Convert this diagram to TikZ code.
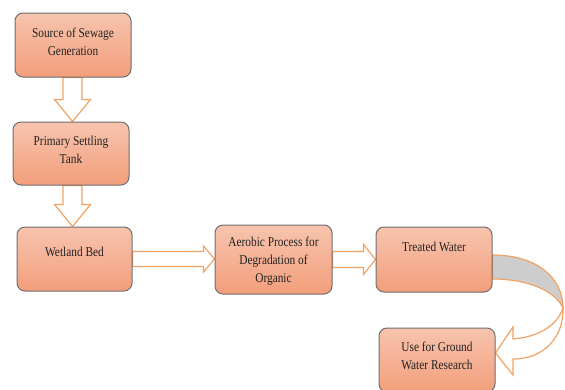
\documentclass[tikz,border=0pt]{standalone}
\usepackage{fontspec}
\setmainfont{Liberation Serif}[FakeStretch=0.84]
\usetikzlibrary{calc}
\pgfdeclarelayer{background}
\pgfsetlayers{background,main}
\definecolor{boxtop}{HTML}{F7C4AE}
\definecolor{boxbot}{HTML}{F39E7B}
\definecolor{boxline}{HTML}{6E6E6E}
\definecolor{arrline}{HTML}{F2A262}
\definecolor{bandgray}{HTML}{CDCDCD}
\definecolor{txtcol}{HTML}{222222}
\begin{document}
\begin{tikzpicture}[x=1pt,y=-1pt,
  procbox/.style={draw=boxline, line width=1pt, rounded corners=8pt,
    top color=boxtop, bottom color=boxbot, inner sep=0pt},
  txt/.style={align=center, font=\fontsize{13.5}{18}\selectfont, text=txtcol, inner sep=0pt},
  blockarr/.style={draw=arrline, line width=1.2pt, fill=white, line join=miter}]
\useasboundingbox (0,0) rectangle (565,389);

\node[procbox, minimum width=116pt, minimum height=64pt] (b1) at (73,45) {};
\node[procbox, minimum width=116pt, minimum height=63pt] (b2) at (71,153.5) {};
\node[procbox, minimum width=115pt, minimum height=64pt] (b3) at (74.5,259) {};
\node[procbox, minimum width=117pt, minimum height=69pt] (b4) at (273.5,259.5) {};
\node[procbox, minimum width=116pt, minimum height=65pt] (b5) at (434,259.5) {};
\node[procbox, minimum width=116pt, minimum height=64pt] (b6) at (437,360) {};

\node[txt] (t1) at ($(b1.center)+(0,-3)$) {Source of Sewage\\Generation};
\node[txt] (t2) at ($(b2.center)+(0,-4)$) {Primary Settling\\Tank};
\node[txt] (t3) at ($(b3.center)+(0,-7)$) {Wetland Bed};
\node[txt] (t4) at ($(b4.center)+(0,2)$) {Aerobic Process for\\Degradation of\\Organic};
\node[txt] (t5) at ($(b5.center)+(0,-13)$) {Treated Water};
\node[txt] (t6) at ($(b6.center)+(0,-4)$) {Use for Ground\\Water Research};

\begin{pgfonlayer}{background}
% vertical block arrows
\coordinate (a1s) at ($(b1.south)+(-0.5,0)$);
\coordinate (a1e) at (a1s |- b2.north);
\draw[blockarr] ($(a1s)+(-9.5,0)$) -- ($(a1e)+(-9.5,-22)$) -- ($(a1e)+(-18,-22)$)
  -- (a1e) -- ($(a1e)+(18,-22)$) -- ($(a1e)+(9.5,-22)$) -- ($(a1s)+(9.5,0)$) -- cycle;
\coordinate (a2s) at ($(b2.south)+(1.5,0)$);
\coordinate (a2e) at (a2s |- b3.north);
\draw[blockarr] ($(a2s)+(-9.5,0)$) -- ($(a2e)+(-9.5,-22)$) -- ($(a2e)+(-18,-22)$)
  -- (a2e) -- ($(a2e)+(18,-22)$) -- ($(a2e)+(9.5,-22)$) -- ($(a2s)+(9.5,0)$) -- cycle;
% horizontal block arrows
\coordinate (a3s) at (b3.east);
\coordinate (a3e) at (b4.west |- a3s);
\draw[blockarr] ($(a3s)+(0,-7.5)$) -- ($(a3e)+(-11,-7.5)$) -- ($(a3e)+(-11,-13)$)
  -- (a3e) -- ($(a3e)+(-11,13)$) -- ($(a3e)+(-11,7.5)$) -- ($(a3s)+(0,7.5)$) -- cycle;
\coordinate (a4s) at (b4.east);
\coordinate (a4e) at (b5.west |- a4s);
\draw[blockarr] ($(a4s)+(0,-8)$) -- ($(a4e)+(-12,-8)$) -- ($(a4e)+(-12,-15)$)
  -- (a4e) -- ($(a4e)+(-12,15)$) -- ($(a4e)+(-12,8)$) -- ($(a4s)+(0,8)$) -- cycle;
% curved arrow
\coordinate (c0) at ($(b5.east)+(0,-4.5)$);
\coordinate (c1) at ($(b5.east)+(0,19.5)$);
\coordinate (cr) at (563,308);
\coordinate (ct) at ($(b6.east)+(0,-7)$);
\draw[draw=arrline, line width=1.2pt, fill=bandgray]
  (c0) .. controls (537,255) and (563,278) .. (cr)
  .. controls (556,292) and (530,279) .. (c1) -- cycle;
\draw[blockarr]
  (cr) .. controls (564,336) and (545,359) .. (513,359)
  -- (513,375) -- (ct) -- (513,327) -- (513,339)
  .. controls (538,337) and (557,326) .. (cr) -- cycle;
\end{pgfonlayer}
\end{tikzpicture}
\end{document}
